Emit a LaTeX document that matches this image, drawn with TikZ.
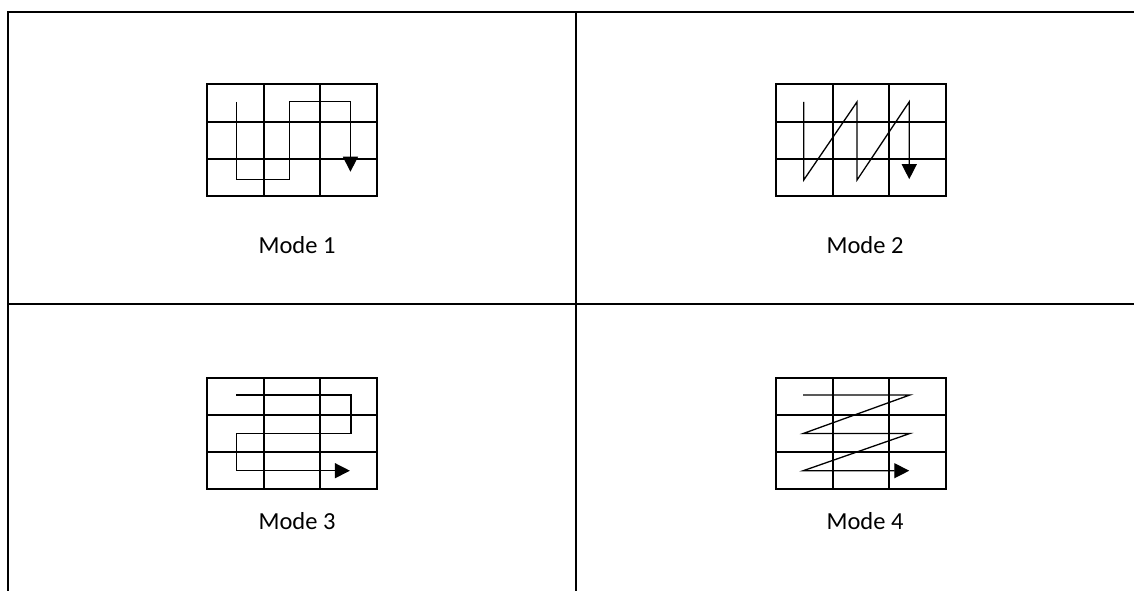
\documentclass[tikz,border=0pt]{standalone}
\usepackage{fontspec}
\setmainfont{Carlito}
\usetikzlibrary{arrows.meta}

\tikzset{
  frame/.style={line width=2.2pt, line cap=rect},
  gridline/.style={line width=2pt},
  route/.style={line width=1.3pt, line join=miter},
  routearrow/.style={route, -{Triangle[width=15pt,length=15pt]}},
  caption/.style={font=\fontsize{24.5}{29}\selectfont, anchor=base, inner sep=0pt},
}

% 3x3 grid drawn in cell units
\newcommand{\cellgrid}{%
  \draw[gridline] (0,0) rectangle (3,3);
  \foreach \k in {1,2} {
    \draw[gridline] (\k,0) -- (\k,3);
    \draw[gridline] (0,\k) -- (3,\k);
  }%
}

\begin{document}
\begin{tikzpicture}[x=1pt,y=-1pt]
  \useasboundingbox (0,0) rectangle (1134,590);

  % table rules
  \draw[frame] (8,590) -- (8,12) -- (1134,12);
  \draw[frame] (576,12) -- (576,590);
  \draw[frame] (8,304) -- (1134,304);

  % Mode 1: vertical serpentine
  \begin{scope}[shift={(207,84.3)}, x=56.7pt, y=-37.2pt]
    \cellgrid
    \draw[routearrow] (0.52,0.47) -- (0.52,2.55) -- (1.46,2.55) -- (1.46,0.47)
      -- (2.53,0.47) -- (2.53,2.35);
  \end{scope}

  % Mode 2: vertical zigzag
  \begin{scope}[shift={(776,84.3)}, x=56.7pt, y=-37.2pt]
    \cellgrid
    \draw[routearrow] (0.49,0.47) -- (0.49,2.57) -- (1.43,0.47) -- (1.43,2.57)
      -- (2.35,0.47) -- (2.35,2.55);
  \end{scope}

  % Mode 3: horizontal serpentine
  \begin{scope}[shift={(207,377.7)}, x=56.7pt, y=-37.2pt]
    \cellgrid
    \draw[routearrow] (0.52,0.465) -- (2.54,0.465) -- (2.54,1.5) -- (0.52,1.5)
      -- (0.52,2.5) -- (2.52,2.5);
  \end{scope}

  % Mode 4: horizontal zigzag
  \begin{scope}[shift={(776,377.7)}, x=56.7pt, y=-37.2pt]
    \cellgrid
    \draw[routearrow] (0.48,0.465) -- (2.36,0.465) -- (0.48,1.5) -- (2.36,1.5)
      -- (0.48,2.5) -- (2.35,2.5);
  \end{scope}

  % captions
  \node[caption] (m1) at (297,253) {Mode 1};
  \node[caption] (m2) at (865,253) {Mode 2};
  \node[caption] (m3) at (297,529) {Mode 3};
  \node[caption] (m4) at (865,529) {Mode 4};
\end{tikzpicture}
\end{document}
